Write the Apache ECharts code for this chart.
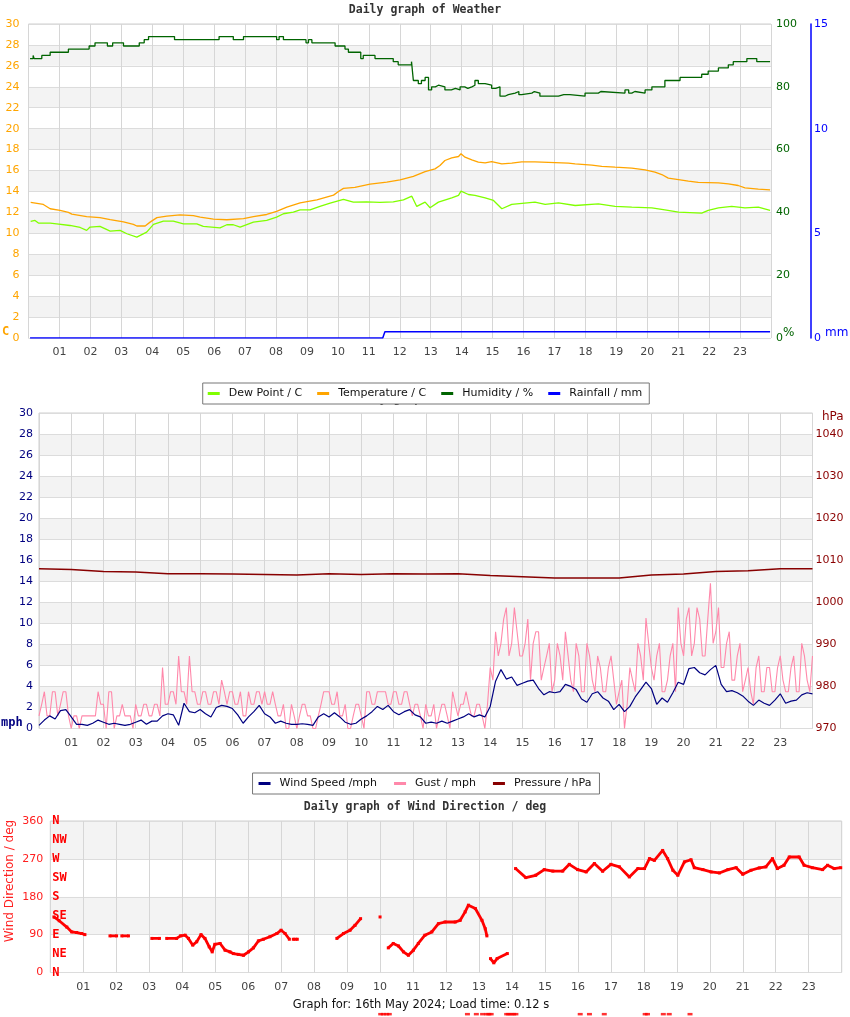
<!DOCTYPE html>
<html><head><meta charset="utf-8">
<script src="https://cdn.jsdelivr.net/npm/echarts@6/dist/echarts.min.js"></script>
<style>html,body{margin:0;padding:0;background:#fff}#c{width:850px;height:1017px}</style>
</head><body><div id="c"></div>
<script>
// ---------- DATA ----------
const hourTicks = ['01','02','03','04','05','06','07','08','09','10','11','12','13','14','15','16','17','18','19','20','21','22','23'];
const compassLabels = ['N','NE','E','SE','S','SW','W','NW','N'];

// Temperature (C)
const tempTimes = [0.07,0.48,0.70,1.02,1.29,1.40,1.88,2.31,2.64,3.07,3.39,3.50,3.77,3.93,4.15,4.47,4.90,5.33,5.55,5.98,6.41,6.95,7.27,7.70,8.02,8.35,8.78,9.32,9.86,10.02,10.18,10.55,11.04,11.58,12.01,12.44,12.82,13.14,13.30,13.46,13.68,13.90,13.98,14.11,14.33,14.54,14.76,14.97,15.30,15.62,15.94,16.37,17.45,17.67,18.21,18.53,18.96,19.50,19.93,20.25,20.47,20.68,21.01,21.33,21.65,22.30,22.62,22.94,23.16,23.59,23.97];
const tempValues = [12.95,12.76,12.35,12.19,12.0,11.84,11.6,11.5,11.3,11.1,10.85,10.7,10.7,11.07,11.5,11.65,11.77,11.7,11.55,11.35,11.3,11.4,11.6,11.8,12.1,12.5,12.9,13.2,13.65,14.0,14.3,14.4,14.7,14.9,15.1,15.45,15.9,16.16,16.48,16.96,17.21,17.34,17.6,17.28,17.02,16.8,16.74,16.86,16.64,16.7,16.83,16.83,16.7,16.64,16.51,16.4,16.32,16.23,16.07,15.84,15.62,15.27,15.14,14.99,14.86,14.83,14.73,14.57,14.35,14.22,14.16];

// Dew point (C)
const dewTimes = [0.07,0.21,0.32,0.70,0.91,1.34,1.67,1.88,1.99,2.31,2.64,2.96,3.18,3.50,3.82,4.04,4.36,4.68,5.01,5.44,5.65,6.19,6.41,6.62,6.84,7.27,7.70,8.02,8.24,8.56,8.78,9.10,9.42,9.75,10.18,10.50,10.93,11.36,11.79,12.12,12.39,12.55,12.82,12.98,13.25,13.68,13.90,13.98,14.22,14.43,14.76,15.03,15.30,15.62,16.37,16.70,17.13,17.67,18.42,18.96,19.50,20.15,20.57,21.01,21.76,21.97,22.30,22.73,23.16,23.59,23.97];
const dewValues = [11.14,11.23,10.98,10.98,10.91,10.75,10.56,10.28,10.6,10.66,10.21,10.28,9.96,9.64,10.12,10.85,11.17,11.17,10.91,10.91,10.66,10.53,10.82,10.82,10.6,11.07,11.23,11.55,11.87,12.03,12.25,12.25,12.57,12.89,13.24,12.98,13.01,12.95,13.01,13.2,13.55,12.57,12.98,12.44,12.98,13.39,13.62,14.03,13.71,13.62,13.39,13.14,12.35,12.76,12.98,12.76,12.92,12.66,12.82,12.57,12.5,12.44,12.25,12.03,11.93,12.19,12.44,12.57,12.44,12.5,12.19];

// Humidity (%)
const humTimes = [0.05,0.15,0.18,0.43,0.70,1.29,1.96,2.15,2.55,2.72,3.07,3.58,3.74,3.88,4.72,6.16,6.62,6.95,8.02,8.10,8.24,8.97,9.05,9.16,9.91,10.23,10.34,10.74,10.82,11.20,11.79,11.95,12.30,12.38,12.44,12.60,12.70,12.82,12.93,13.03,13.15,13.25,13.46,13.55,13.60,13.67,13.80,13.95,14.10,14.20,14.33,14.43,14.54,14.76,14.97,15.10,15.24,15.40,15.51,15.73,15.85,15.94,16.27,16.35,16.53,17.13,17.30,17.35,17.50,17.99,18.42,18.50,19.28,19.40,19.50,19.60,19.93,20.15,20.57,21.06,21.76,21.97,22.30,22.62,22.78,23.22,23.54,23.97];
const humValues = [89,90,89,90,91,92,93,94,93,94,93,94,95,96,95,96,95,96,95,96,95,94,95,94,93,92,91,89,90,89,88,87,87,88,82,81,82,83,79,80,80.5,80,79,78.5,79,79.5,79,80,79.5,80,80.5,82,81,80.5,79.5,80,77,77.5,78,78.5,77.5,78,78.5,78,77,77.5,77,77.5,77,78,78.5,78,79,78,78.5,78,79,80,82,83,84,85,86,87,88,89,88,88];

// Rainfall (mm)
const rainTimes = [0.05,11.45,11.52,23.97];
const rainValues = [0,0,0.3,0.3];

// Wind speed (mph), one reading every 10 minutes from 00:00
const windSpeed = [0.3,0.8,1.2,0.9,1.7,1.8,1.1,0.4,0.4,0.3,0.5,0.8,0.6,0.4,0.5,0.4,0.3,0.4,0.6,0.8,0.4,0.7,0.7,1.2,1.4,1.3,0.3,2.4,1.6,1.5,1.8,1.4,1.1,2.0,2.2,2.1,1.9,1.3,0.5,1.1,1.6,2.2,1.4,1.1,0.5,0.7,0.5,0.4,0.4,
 0.45,0.4,0.3,1.1,1.4,1.1,1.5,1.1,0.6,0.4,0.5,0.9,1.2,1.6,2.1,1.8,2.2,1.6,1.3,1.6,1.8,1.3,1.1,0.5,0.6,0.5,0.7,0.5,0.7,0.9,1.1,1.4,1.1,1.3,1.1,2.1,4.5,5.6,4.7,4.9,4.1,4.3,4.5,4.6,3.8,3.2,3.5,3.4,
 3.5,4.2,4.0,3.7,2.8,2.5,3.3,3.5,2.9,2.6,1.8,2.3,1.6,2.1,3.0,3.7,4.4,3.8,2.3,2.9,2.5,3.4,4.4,4.2,5.7,5.8,5.3,5.1,5.6,6.0,4.2,3.5,3.6,3.4,3.1,2.6,2.2,2.7,2.4,2.2,2.7,3.3,2.4,2.6,2.7,3.2,3.4,3.3];
// Gust (mph): readings on the 10 minutes ...
const gustSpeed = [1.2,3.5,1.2,3.5,2.3,3.5,0,1.2,1.2,1.2,1.2,3.5,2.3,3.5,0,1.2,1.2,1.2,2.3,1.2,2.3,1.2,2.3,5.8,2.3,3.5,6.9,3.5,6.9,3.5,2.3,3.5,2.3,3.5,4.6,2.3,3.5,2.3,1.2,3.5,2.3,3.5,3.5,2.3,2.3,1.2,0,2.3,0,
 2.3,1.2,0,1.2,3.5,3.5,2.3,1.2,2.3,0,2.3,1.2,3.5,2.3,3.5,3.5,2.3,3.5,2.3,3.5,2.3,2.3,1.2,2.3,1.2,0,2.3,1.2,3.5,1.2,2.3,2.3,1.2,2.3,0,5.8,9.2,8.1,11.5,8.1,9.2,6.9,10.4,8.1,9.2,5.8,8.1,4.6,
 6.9,9.2,4.6,8.1,3.5,8.1,4.6,6.9,3.5,5.8,4.6,3.5,0,5.8,3.5,6.9,10.5,5.8,6.9,3.5,4.6,8.1,11.5,6.9,11.5,8.1,10.4,6.9,13.8,9.2,5.8,8.1,4.6,6.9,3.5,5.8,2.3,6.9,3.5,5.8,3.5,6.9,3.5,5.8,3.5,8.1,4.6,6.9];
// ... and the readings 5 minutes after each of them
const gustMid = [2.3,1.2,3.5,1.2,3.5,1.2, 1.2,0,1.2,1.2,1.2,2.3, 0,3.5,1.2,2.3,1.2,0, 1.2,2.3,1.2,2.3,1.2,2.3,
 3.5,2.3,3.5,2.3,3.5,2.3, 3.5,2.3,3.5,2.3,3.5,3.5, 2.3,3.5,1.2,2.3,3.5,2.3, 2.3,3.5,1.2,2.3,0,1.2,
 1.2,2.3,1.2,0,2.3,3.5, 2.3,3.5,1.2,0,1.2,2.3, 0,3.5,2.3,3.5,3.5,2.3, 3.5,2.3,3.5,1.2,2.3,0,
 1.2,2.3,1.2,2.3,0,2.3, 2.3,3.5,1.2,2.3,1.2,2.3, 4.6,6.9,10.4,6.9,11.5,6.9, 8.1,4.6,9.2,4.6,6.9,3.5,
 8.1,4.6,6.9,3.5,6.9,3.5, 6.9,3.5,5.8,3.5,6.9,2.3, 4.6,2.3,4.6,8.1,4.6,8.1, 4.6,8.1,3.5,6.9,3.5,8.1,
 10.4,6.9,11.5,6.9,10.4,8.1, 11.5,5.8,9.2,4.6,8.1,4.6, 3.5,5.8,3.5,5.8,3.5,5.8, 4.6,3.5,6.9,3.5,6.9,3.5];

// Pressure (hPa), hourly
const pressureTimes = [0,1,2,3,4,5,6,7,8,9,10,11,12,13,14,15,16,17,18,19,20,21,22,23,24];
const pressureValues = [1008.0,1007.8,1007.3,1007.2,1006.8,1006.8,1006.7,1006.6,1006.5,1006.8,1006.6,1006.8,1006.7,1006.8,1006.4,1006.1,1005.8,1005.8,1005.8,1006.5,1006.7,1007.3,1007.5,1008.0,1008.0];

// Wind direction (deg); null = gap
const dirTimes = [0.11,0.27,0.5,0.65,0.80,0.95,1.05,1.4,1.81,2.01,2.1,2.17,2.37,2.7,3.08,3.31,3.4,3.53,3.83,3.95,4.09,4.19,4.32,4.44,4.57,4.69,4.82,4.91,4.99,5.15,5.30,5.45,5.55,5.70,5.86,6.01,6.16,6.31,6.46,6.66,6.87,7.0,7.12,7.25,7.31,7.37,7.49,8.0,8.69,8.89,9.09,9.24,9.41,9.7,10.0,10.1,10.25,10.4,10.56,10.71,10.86,11.01,11.16,11.36,11.57,11.77,11.97,12.28,12.43,12.58,12.68,12.89,13.09,13.19,13.24,13.3,13.35,13.45,13.55,13.86,14.0,14.11,14.42,14.72,14.98,15.24,15.54,15.74,15.99,16.25,16.50,16.75,17.00,17.26,17.56,17.82,18.02,18.17,18.32,18.57,18.72,18.88,19.03,19.23,19.43,19.53,19.79,20.04,20.29,20.55,20.80,21.0,21.25,21.5,21.70,21.90,22.05,22.25,22.41,22.71,22.86,23.11,23.42,23.57,23.77,23.97];
const dirValues = [132,123,108,96.5,95,92.6,90,null,87,87,null,87,87,null,81,81,null,81,81,87,88.6,81,65,73,90,81,61,49,67,69,53,49,45,43,41,49,58.5,75,79,85,92.6,100.5,92.6,79,null,79,79,null,81,92.6,100.5,112,128,null,132,null,58.5,69,63,49,41,53,69,88.6,96.5,116,120,120,124,144,160,152,124,104,87,null,33,23,33,45,null,247,225.5,231,244.5,241,241,257,244.5,239,259,240.5,257,251,227,247,247,270.6,266.6,290,270.6,243,231,262.7,268,249,244.5,239,236.6,244.5,249,233.4,243,248.4,251,270.6,247,254.8,274.5,274.5,254.8,249,244.5,254.8,247,249];
// readings logged as missing (-99)
const dirMissingTimes = [10.02,10.1,10.2,10.28,12.65,12.92,13.11,13.24,13.3,13.37,13.84,13.9,13.98,14.05,14.12,16.07,16.35,16.80,18.04,18.11,18.59,18.77,19.40];
const dirMissingValue = -99;

// ---------- BUILD ----------
const pairs = (ts, vs) => ts.map((t, i) => [t, vs[i] === null ? '-' : vs[i]]);
const tenMin = arr => arr.map((v, i) => [i / 6, v]);
const gustData = [];
gustSpeed.forEach((v, i) => {
  gustData.push([i / 6, v]);
  if (i < gustMid.length) gustData.push([(i + 0.5) / 6, gustMid[i]]);
});
const hourFmt = v => (v >= 1 && v <= 23) ? hourTicks[v - 1] : '';
const SANS = 'DejaVu Sans';
const MONO = 'DejaVu Sans Mono';

const xBase = (gi) => ({
  type: 'value', gridIndex: gi, min: 0, max: 24, interval: 1,
  axisLine: {show: false}, axisTick: {show: false},
  axisLabel: {formatter: hourFmt, color: '#444', fontSize: 11, fontFamily: SANS, margin: 9},
  splitLine: {show: true, lineStyle: {color: '#d6d6d6', width: 1}}
});
const bands = {show: true, areaStyle: {color: ['#ffffff', '#f3f3f3']}};
const gridLine = {show: true, lineStyle: {color: '#dcdcdc', width: 1}};

const chart = echarts.init(document.getElementById('c'), null, {renderer: 'canvas'});
chart.setOption({
  animation: false,
  backgroundColor: '#fff',
  title: [
    {text: 'Daily graph of Weather', left: 'center', top: 4, padding: 0,
     textStyle: {fontFamily: MONO, fontWeight: 'bold', fontSize: 11.5, color: '#333'}},
    {text: 'Daily graph of Wind', left: 352, top: 393, padding: 0, z: 1,
     textStyle: {fontFamily: MONO, fontWeight: 'bold', fontSize: 11.5, color: '#333'}},
    {text: 'Daily graph of Wind Direction / deg', left: 'center', top: 801, padding: 0,
     textStyle: {fontFamily: MONO, fontWeight: 'bold', fontSize: 11.5, color: '#333'}}
  ],
  legend: [
    {data: ['Dew Point / C', 'Temperature / C', 'Humidity / %', 'Rainfall / mm'],
     left: 'center', top: 383, z: 10, backgroundColor: '#fff', borderColor: '#777', borderWidth: 1,
     padding: [5, 7, 5, 5], itemWidth: 12, itemHeight: 3, itemGap: 15, icon: 'rect', selectedMode: false,
     textStyle: {fontFamily: SANS, fontSize: 11, color: '#111', padding: [0, 0, 0, 4]}},
    {data: ['Wind Speed /mph', 'Gust / mph', 'Pressure / hPa'],
     left: 'center', top: 773, z: 10, backgroundColor: '#fff', borderColor: '#777', borderWidth: 1,
     padding: [5, 8, 5, 6], itemWidth: 12, itemHeight: 3, itemGap: 17, icon: 'rect', selectedMode: false,
     textStyle: {fontFamily: SANS, fontSize: 11, color: '#111', padding: [0, 0, 0, 4]}}
  ],
  grid: [
    {left: 28.5, top: 24, width: 742.5, height: 314, show: true, borderColor: '#cfcfcf', borderWidth: 1, backgroundColor: 'transparent'},
    {left: 39, top: 413, width: 773.5, height: 315.5, show: true, borderColor: '#cfcfcf', borderWidth: 1, backgroundColor: 'transparent'},
    {left: 50.3, top: 821, width: 791.4, height: 151.5, show: true, borderColor: '#cfcfcf', borderWidth: 1, backgroundColor: 'transparent'}
  ],
  xAxis: [xBase(0), xBase(1), xBase(2)],
  yAxis: [
    {type: 'value', gridIndex: 0, min: 0, max: 30, interval: 2, axisLine: {show: false}, axisTick: {show: false},
     axisLabel: {color: '#ffa500', fontSize: 11, fontFamily: SANS, margin: 9}, splitLine: gridLine, splitArea: bands},
    {type: 'value', gridIndex: 0, position: 'right', min: 0, max: 100, interval: 20, axisLine: {show: false}, axisTick: {show: false},
     axisLabel: {color: '#006400', fontSize: 11, fontFamily: SANS, margin: 5}, splitLine: {show: false}},
    {type: 'value', gridIndex: 0, position: 'right', offset: 40, min: 0, max: 15, interval: 5,
     axisLine: {show: true, lineStyle: {color: '#0000ff', width: 1.5}}, axisTick: {show: false},
     axisLabel: {color: '#0000ff', fontSize: 11, fontFamily: SANS, margin: 3}, splitLine: {show: false}},
    {type: 'value', gridIndex: 1, min: 0, max: 30, interval: 2, axisLine: {show: false}, axisTick: {show: false},
     axisLabel: {color: '#000080', fontSize: 11, fontFamily: SANS, margin: 6}, splitLine: gridLine, splitArea: bands},
    {type: 'value', gridIndex: 1, position: 'right', min: 970, max: 1045, interval: 10, axisLine: {show: false}, axisTick: {show: false},
     axisLabel: {color: '#8b0000', fontSize: 11, fontFamily: SANS, margin: 3, formatter: v => (v % 10 === 0 ? String(v) : '')},
     splitLine: {show: false}},
    {type: 'value', gridIndex: 2, min: 0, max: 360, interval: 90, axisLine: {show: false}, axisTick: {show: false},
     axisLabel: {color: '#ff2020', fontSize: 11, fontFamily: SANS, margin: 7}, splitLine: gridLine, splitArea: bands},
    {type: 'value', gridIndex: 2, position: 'left', min: 0, max: 360, interval: 45, axisLine: {show: false}, axisTick: {show: false},
     axisLabel: {inside: true, margin: 2, color: '#ff0000', fontSize: 12, fontWeight: 'bold', fontFamily: MONO,
       formatter: v => compassLabels[Math.round(v / 45)] || ''},
     splitLine: {show: false}}
  ],
  graphic: [
    {type: 'text', left: 2, top: 326, style: {text: 'C', fill: '#ffa500', font: 'bold 12px "DejaVu Sans Mono"'}},
    {type: 'text', left: 783, top: 327, style: {text: '%', fill: '#006400', font: '12px "DejaVu Sans"'}},
    {type: 'text', left: 825, top: 327, style: {text: 'mm', fill: '#0000ff', font: '12px "DejaVu Sans"'}},
    {type: 'text', left: 1, top: 717, style: {text: 'mph', fill: '#000080', font: 'bold 12px "DejaVu Sans Mono"'}},
    {type: 'text', left: 822, top: 411, style: {text: 'hPa', fill: '#8b0000', font: '12px "DejaVu Sans"'}},
    {type: 'text', x: 10, y: 881, rotation: Math.PI / 2,
     style: {text: 'Wind Direction / deg', fill: '#ff2020', font: '12px "DejaVu Sans"', align: 'center', verticalAlign: 'middle'}},
    {type: 'text', x: 421, y: 1005,
     style: {text: 'Graph for: 16th May 2024; Load time: 0.12 s', fill: '#111', font: '11.5px "DejaVu Sans"', align: 'center', verticalAlign: 'middle'}}
  ],
  series: [
    {name: 'Humidity / %', type: 'line', xAxisIndex: 0, yAxisIndex: 1, step: 'end', showSymbol: false, symbol: 'none',
     color: '#006400', lineStyle: {width: 1.3, color: '#006400'}, data: pairs(humTimes, humValues), z: 3},
    {name: 'Temperature / C', type: 'line', xAxisIndex: 0, yAxisIndex: 0, showSymbol: false, symbol: 'none',
     color: '#ffa500', lineStyle: {width: 1.3, color: '#ffa500'}, data: pairs(tempTimes, tempValues), z: 3},
    {name: 'Dew Point / C', type: 'line', xAxisIndex: 0, yAxisIndex: 0, showSymbol: false, symbol: 'none',
     color: '#80ff00', lineStyle: {width: 1.3, color: '#80ff00'}, data: pairs(dewTimes, dewValues), z: 3},
    {name: 'Rainfall / mm', type: 'line', xAxisIndex: 0, yAxisIndex: 2, showSymbol: false, symbol: 'none',
     color: '#0000ff', lineStyle: {width: 1.5, color: '#0000ff'}, data: pairs(rainTimes, rainValues), z: 3},
    {name: 'Gust / mph', type: 'line', xAxisIndex: 1, yAxisIndex: 3, showSymbol: false, symbol: 'none',
     color: '#ff88aa', lineStyle: {width: 1.1, color: '#ff88aa'}, data: gustData, z: 3},
    {name: 'Wind Speed /mph', type: 'line', xAxisIndex: 1, yAxisIndex: 3, showSymbol: false, symbol: 'none',
     color: '#000080', lineStyle: {width: 1.2, color: '#000080'}, data: tenMin(windSpeed), z: 4},
    {name: 'Pressure / hPa', type: 'line', xAxisIndex: 1, yAxisIndex: 4, showSymbol: false, symbol: 'none',
     color: '#880000', lineStyle: {width: 1.5, color: '#880000'}, data: pairs(pressureTimes, pressureValues), z: 4},
    {name: 'Wind Direction', type: 'line', xAxisIndex: 2, yAxisIndex: 5, connectNulls: false,
     showSymbol: true, showAllSymbol: true, symbol: 'rect', symbolSize: 3,
     itemStyle: {color: '#ff0000'}, lineStyle: {width: 2.8, color: '#ff0000'}, data: pairs(dirTimes, dirValues), z: 4},
    {name: 'Wind Direction missing', type: 'scatter', xAxisIndex: 2, yAxisIndex: 5, clip: false,
     symbol: 'rect', symbolSize: [5, 2.5], itemStyle: {color: '#ff0000'},
     data: dirMissingTimes.map(t => [t, dirMissingValue]), z: 4}
  ]
});
</script>
</body></html>
